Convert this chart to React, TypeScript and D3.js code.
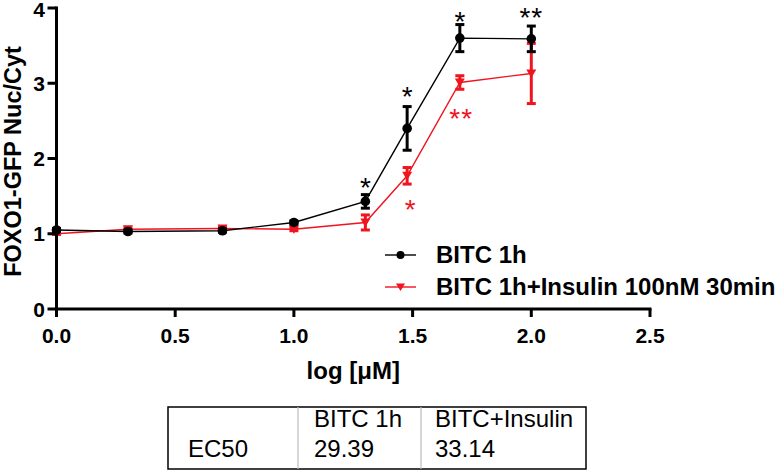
import React from "react";
import * as d3 from "d3";

// ---- data ----
const logConc = [0, 0.301, 0.699, 1.0, 1.301, 1.477, 1.699, 2.0];
const bitcMean = [1.05, 1.03, 1.04, 1.15, 1.43, 2.4, 3.6, 3.59];
const bitcErr = [0.02, 0.02, 0.02, 0.02, 0.09, 0.29, 0.18, 0.17];
const insMean = [1.0, 1.06, 1.07, 1.06, 1.15, 1.77, 3.01, 3.13];
const insErr = [0.01, 0.02, 0.02, 0.02, 0.1, 0.11, 0.09, 0.4];

const xTicks = [0, 0.5, 1.0, 1.5, 2.0, 2.5];
const yTicks = [0, 1, 2, 3, 4];

const seriesNames = ["BITC 1h", "BITC 1h+Insulin 100nM 30min"];

// significance marks (data coords of label centre)
const starX = [1.301, 1.477, 1.699, 2.0, 1.49, 1.705];
const starY = [1.71, 2.92, 3.92, 3.97, 1.42, 2.63];
const starText = ["*", "*", "*", "**", "*", "**"];
const starSeries = [0, 0, 0, 0, 1, 1];

const tableHeader = ["", "BITC 1h", "BITC+Insulin"];
const tableRow = ["EC50", "29.39", "33.14"];

const BLACK = "#000000";
const RED = "#f0141e";
const FONT = "'Liberation Sans', Arial, Helvetica, sans-serif";

export default function App() {
  const W = 779;
  const H = 470;
  const x = d3.scaleLinear().domain([0, 2.5]).range([56.5, 650]);
  const y = d3.scaleLinear().domain([0, 4]).range([309, 8]);

  const line = d3
    .line<number>()
    .x((_, i) => x(logConc[i]))
    .y((d) => y(d));

  const colors = [BLACK, RED];
  const means = [bitcMean, insMean];
  const errs = [bitcErr, insErr];

  const tri = (cx: number, cy: number, s: number) =>
    `M${cx - s},${cy - s * 0.8} L${cx + s},${cy - s * 0.8} L${cx},${cy + s * 0.9} Z`;

  const colX = [168, 298, 421, 586];
  const tableTop = 407;
  const tableBottom = 469;
  const textX = [188, 314, 435];

  return (
    <div style={{ position: "absolute", left: 0, top: 0 }}>
      <svg width={W} height={H} style={{ display: "block", background: "#fff" }} fontFamily={FONT}>
        {/* series: error bars, lines, markers */}
        {[1, 0].map((s) => (
          <g key={s}>
            <path d={line(means[s]) || ""} fill="none" stroke={colors[s]} strokeWidth={1.4} />
            {means[s].map((m, i) => {
              const cx = x(logConc[i]);
              const y1 = y(m + errs[s][i]);
              const y2 = y(m - errs[s][i]);
              return (
                <g key={i} stroke={colors[s]} strokeWidth={3}>
                  <line x1={cx} x2={cx} y1={y1} y2={y2} />
                  <line x1={cx - 4.5} x2={cx + 4.5} y1={y1} y2={y1} />
                  <line x1={cx - 4.5} x2={cx + 4.5} y1={y2} y2={y2} />
                </g>
              );
            })}
            {means[s].map((m, i) =>
              s === 0 ? (
                <circle key={"m" + i} cx={x(logConc[i])} cy={y(m)} r={4.8} fill={BLACK} />
              ) : (
                <path key={"m" + i} d={tri(x(logConc[i]), y(m), 5)} fill={RED} />
              )
            )}
          </g>
        ))}

        {/* significance stars */}
        {starText.map((t, i) => (
          <text
            key={i}
            x={x(starX[i])}
            y={y(starY[i]) + 16.5}
            textAnchor="middle"
            fontSize={28}
            fill={colors[starSeries[i]]}
            letterSpacing={starText[i].length > 1 ? 1 : 0}
          >
            {t}
          </text>
        ))}

        {/* axes */}
        <g stroke="#000" strokeWidth={3}>
          <line x1={x(0)} x2={x(2.5) + 1.5} y1={y(0)} y2={y(0)} />
          <line x1={x(0)} x2={x(0)} y1={y(4) - 1.5} y2={y(0) + 1.5} />
          {xTicks.map((t) => (
            <line key={t} x1={x(t)} x2={x(t)} y1={y(0)} y2={y(0) + 8} />
          ))}
          {yTicks.map((t) => (
            <line key={t} x1={x(0) - 9} x2={x(0)} y1={y(t)} y2={y(t)} />
          ))}
        </g>
        {xTicks.map((t) => (
          <text key={t} x={x(t)} y={343} textAnchor="middle" fontSize={21} fontWeight="bold">
            {d3.format(".1f")(t)}
          </text>
        ))}
        {yTicks.map((t) => (
          <text key={t} x={45} y={Math.max(y(t) + 7.5, 17)} textAnchor="end" fontSize={21} fontWeight="bold">
            {t}
          </text>
        ))}
        <text x={(x(0) + x(2.5)) / 2} y={379} textAnchor="middle" fontSize={24} fontWeight="bold">
          log [μM]
        </text>
        <text
          transform={`translate(20.5,${(y(0) + y(4)) / 2 + 3}) rotate(-90)`}
          textAnchor="middle"
          fontSize={23.5}
          fontWeight="bold"
        >
          FOXO1-GFP Nuc/Cyt
        </text>

        {/* legend */}
        {seriesNames.map((n, i) => {
          const ly = 255 + i * 32;
          return (
            <g key={n}>
              <line x1={385} x2={416} y1={ly} y2={ly} stroke={colors[i]} strokeWidth={1.4} />
              {i === 0 ? (
                <circle cx={400.5} cy={ly} r={4} fill={BLACK} />
              ) : (
                <path d={tri(400.5, ly, 4.5)} fill={RED} />
              )}
              <text x={436} y={ly + 8} fontSize={24} fontWeight="bold">
                {n}
              </text>
            </g>
          );
        })}

        {/* EC50 table */}
        <rect
          x={colX[0]}
          y={tableTop}
          width={colX[3] - colX[0]}
          height={tableBottom - tableTop}
          fill="none"
          stroke="#000"
          strokeWidth={1.5}
        />
        {[colX[1], colX[2]].map((cx) => (
          <line key={cx} x1={cx} x2={cx} y1={tableTop} y2={tableBottom} stroke="#bdbdbd" strokeWidth={1.2} />
        ))}
        {tableHeader.map((t, i) => (
          <text key={"h" + i} x={textX[i]} y={427} fontSize={24}>
            {t}
          </text>
        ))}
        {tableRow.map((t, i) => (
          <text key={"r" + i} x={textX[i]} y={457} fontSize={24}>
            {t}
          </text>
        ))}
      </svg>
    </div>
  );
}
